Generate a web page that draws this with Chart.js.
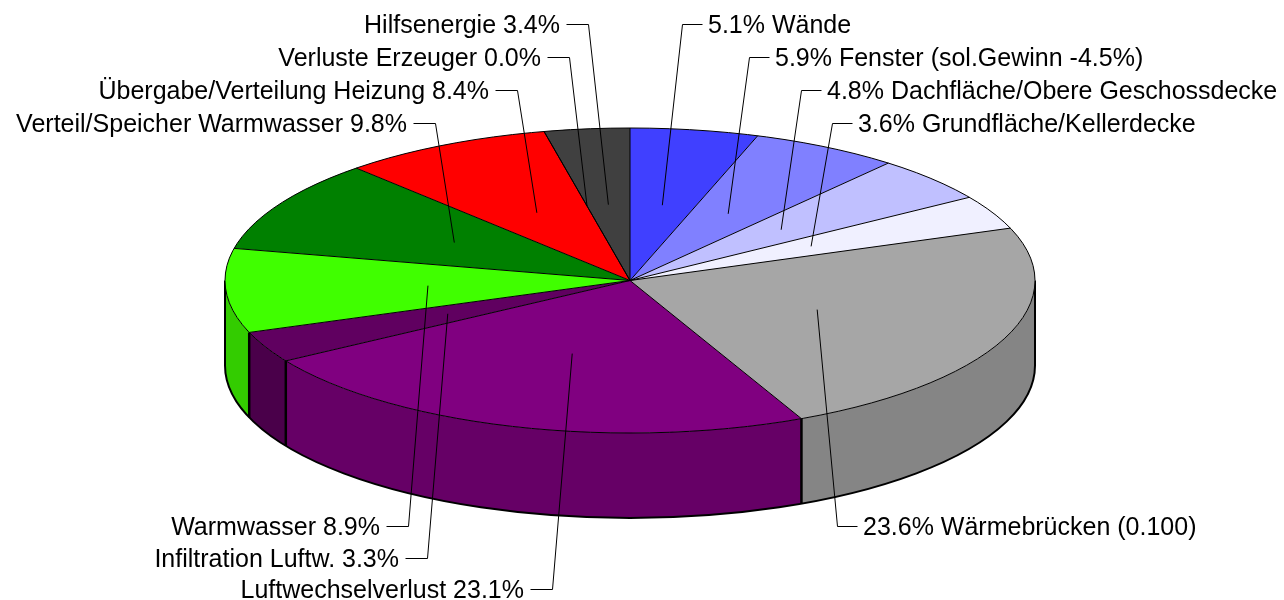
<!DOCTYPE html>
<html>
<head>
<meta charset="utf-8">
<script src="https://cdn.jsdelivr.net/npm/chart.js@4.4.0/dist/chart.umd.min.js"></script>
<style>
  html, body { margin: 0; padding: 0; background: #fff; }
</style>
</head>
<body>
<canvas id="pie3d" width="1284" height="600"></canvas>
<script>
// slices, clockwise from 12 o'clock
var names = ["Wände", "Fenster (sol.Gewinn -4.5%)", "Dachfläche/Obere Geschossdecke", "Grundfläche/Kellerdecke",
  "Wärmebrücken (0.100)", "Luftwechselverlust", "Infiltration Luftw.", "Warmwasser",
  "Verteil/Speicher Warmwasser", "Übergabe/Verteilung Heizung", "Verluste Erzeuger", "Hilfsenergie"];
var shares = [5.1, 5.9, 4.8, 3.6, 23.6, 23.1, 3.3, 8.9, 9.8, 8.4, 0.0, 3.4];

var topColors = ["#4040ff", "#8080ff", "#c0c0ff", "#f0f0ff", "#a6a6a6", "#800080", "#600060", "#40ff00",
  "#008000", "#ff0000", "#808080", "#404040"];
var sideColors = ["#3333cc", "#6666cc", "#9a9acc", "#c0c0cc", "#858585", "#660066", "#4a004a", "#33cc00",
  "#006600", "#cc0000", "#666666", "#333333"];

// label placement: side of the text, x of the leader corner, text baseline
var labelPos = [["R", 682, 33], ["R", 749, 66], ["R", 801, 99], ["R", 832, 132],
  ["R", 837, 535], ["L", 552, 598], ["L", 427, 567], ["L", 408, 535],
  ["L", 435, 132], ["L", 517, 99], ["L", 569, 66], ["L", 588, 33]];

var CX = 630, CY = 280.5, RX = 405, RY = 152.5, DEPTH = 85;

function ept(a, f, dy) {
  return [CX + RX * f * Math.cos(a), CY + (dy || 0) + RY * f * Math.sin(a)];
}

var pie3d = {
  id: 'pie3d',
  afterUpdate: function (chart) {
    // stretch the pie, it gets squashed to an ellipse when drawn
    chart.getDatasetMeta(0).data.forEach(function (arc) {
      arc.x = CX; arc.y = CY; arc.outerRadius = RX; arc.innerRadius = 0;
    });
  },
  beforeDatasetsDraw: function (chart) {
    var ctx = chart.ctx;
    var arcs = chart.getDatasetMeta(0).data;

    // front walls
    arcs.forEach(function (arc, i) {
      var a1 = Math.max(arc.startAngle, 0), a2 = Math.min(arc.endAngle, Math.PI);
      if (a2 <= a1) return;
      ctx.beginPath();
      ctx.ellipse(CX, CY, RX, RY, 0, a1, a2);
      ctx.ellipse(CX, CY + DEPTH, RX, RY, 0, a2, a1, true);
      ctx.closePath();
      ctx.fillStyle = sideColors[i];
      ctx.fill();
    });

    ctx.strokeStyle = '#000';
    ctx.lineWidth = 2.5;
    arcs.forEach(function (arc) {
      var a = arc.startAngle;
      if (a > 0 && a < Math.PI) {
        var p = ept(a, 1);
        ctx.beginPath();
        ctx.moveTo(p[0], p[1]);
        ctx.lineTo(p[0], p[1] + DEPTH);
        ctx.stroke();
      }
    });
    ctx.lineWidth = 2;
    ctx.beginPath();
    ctx.moveTo(CX + RX, CY);
    ctx.ellipse(CX, CY + DEPTH, RX, RY, 0, 0, Math.PI);
    ctx.lineTo(CX - RX, CY);
    ctx.stroke();

    ctx.save();
    ctx.translate(CX, CY);
    ctx.scale(1, RY / RX);
    ctx.translate(-CX, -CY);
  },
  afterDatasetsDraw: function (chart) {
    var ctx = chart.ctx;
    var arcs = chart.getDatasetMeta(0).data;
    ctx.restore();

    // top face outline
    ctx.strokeStyle = '#000';
    ctx.lineWidth = 1;
    ctx.beginPath();
    ctx.ellipse(CX, CY, RX, RY, 0, 0, Math.PI * 2);
    ctx.stroke();
    arcs.forEach(function (arc) {
      var p = ept(arc.startAngle, 1);
      ctx.beginPath();
      ctx.moveTo(CX, CY);
      ctx.lineTo(p[0], p[1]);
      ctx.stroke();
    });

    // labels with leader lines
    ctx.font = '25px "Liberation Sans", Arial, sans-serif';
    ctx.fillStyle = '#000';
    ctx.textBaseline = 'alphabetic';
    arcs.forEach(function (arc, i) {
      var lp = labelPos[i];
      var side = lp[0], kx = lp[1] + 0.5, base = lp[2];
      var dy = base - 9 + 0.5;
      var anchor = ept((arc.startAngle + arc.endAngle) / 2, 0.5);
      var txt;
      ctx.beginPath();
      if (side == 'L') {
        ctx.moveTo(kx - 22, dy);
        txt = names[i] + ' ' + shares[i].toFixed(1) + '%';
      } else {
        ctx.moveTo(kx + 20, dy);
        txt = shares[i].toFixed(1) + '% ' + names[i];
      }
      ctx.lineTo(kx, dy);
      ctx.lineTo(anchor[0], anchor[1]);
      ctx.lineWidth = 1;
      ctx.stroke();
      if (side == 'L') {
        ctx.textAlign = 'right';
        ctx.fillText(txt, lp[1] - 28, base);
      } else {
        ctx.textAlign = 'left';
        ctx.fillText(txt, lp[1] + 26, base);
      }
    });
  }
};

new Chart(document.getElementById('pie3d'), {
  type: 'pie',
  data: {
    labels: names,
    datasets: [{
      data: shares,
      backgroundColor: topColors,
      borderWidth: 0,
      clip: false
    }]
  },
  options: {
    responsive: false,
    animation: false,
    events: [],
    plugins: {
      legend: { display: false },
      tooltip: { enabled: false }
    }
  },
  plugins: [pie3d]
});
</script>
</body>
</html>
